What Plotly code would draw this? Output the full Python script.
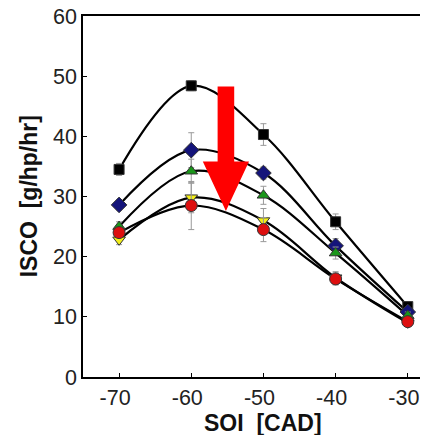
import plotly.graph_objects as go

soi = [-70, -60, -50, -40, -30]
soi_labels = ["-70", "-60", "-50", "-40", "-30"]
isco_ticks = [0, 10, 20, 30, 40, 50, 60]

# ISCO [g/hp/hr] for each series
isco_sq = [34.5, 48.4, 40.3, 25.8, 11.7]
isco_dia = [28.6, 37.7, 33.9, 21.8, 10.8]
isco_up = [25.0, 34.2, 30.2, 20.6, 10.2]
isco_dn = [22.8, 29.8, 26.0, 16.5, 9.0]
isco_circ = [24.0, 28.5, 24.5, 16.3, 9.2]

err_sq = [1.0, 0.8, 1.8, 1.3, 0.8]
err_dia = [0.8, 2.9, 1.0, 1.2, 0.6]
err_up = [0.8, 2.0, 1.5, 1.0, 0.6]
err_dn = [0.8, 2.5, 2.0, 1.0, 0.6]
err_circ = [0.8, 4.0, 2.0, 1.0, 0.6]

series = [
    (isco_sq, err_sq, "square", "#000000", 10),
    (isco_dia, err_dia, "diamond", "#14147a", 12),
    (isco_up, err_up, "triangle-up", "#1a961a", 11),
    (isco_dn, err_dn, "triangle-down", "#f2ee1a", 11),
    (isco_circ, err_circ, "circle", "#dd0f0f", 12),
]

# arrow drawn in data units
arrow_x = -55.2
arrow_top = 48.3
arrow_neck = 35.8
arrow_tip = 27.6
shaft_half = 1.15
head_half = 3.2

fig = go.Figure()
for y, e, sym, col, sz in series:
    fig.add_trace(go.Scatter(
        x=soi, y=y, mode="lines",
        line=dict(color="black", width=2.2, shape="spline", smoothing=1.0),
        showlegend=False, hoverinfo="skip",
    ))
for y, e, sym, col, sz in series:
    fig.add_trace(go.Scatter(
        x=soi, y=y, mode="markers",
        marker=dict(symbol=sym, size=sz, color=col,
                    line=dict(color="#333333", width=1)),
        error_y=dict(type="data", array=e, color="#999999", thickness=1, width=3),
        showlegend=False,
    ))

path = (f"M {arrow_x - shaft_half} {arrow_top} L {arrow_x + shaft_half} {arrow_top} "
        f"L {arrow_x + shaft_half} {arrow_neck} L {arrow_x + head_half} {arrow_neck} "
        f"L {arrow_x} {arrow_tip} L {arrow_x - head_half} {arrow_neck} "
        f"L {arrow_x - shaft_half} {arrow_neck} Z")
fig.add_shape(type="path", path=path, xref="x", yref="y",
              fillcolor="#ff0000", line=dict(width=0))

# axis titles (the original x axis ran to -25, so its title sits at -50)
fig.add_annotation(text="<b>SOI  [CAD]</b>", x=-50, xref="x", y=-0.127, yref="paper",
                   showarrow=False, font=dict(size=23, color="#111111"),
                   xanchor="center", yanchor="middle")
fig.add_annotation(text="<b>ISCO  [g/hp/hr]</b>", x=-0.157, xref="paper", y=0.5,
                   yref="paper", showarrow=False, textangle=-90,
                   font=dict(size=23, color="#111111"),
                   xanchor="center", yanchor="middle")

# page body has an 8px margin; figure offsets compensate for it
fig.update_layout(
    width=428, height=435,
    margin=dict(l=75, r=8, t=8, b=66),
    paper_bgcolor="white", plot_bgcolor="white",
    font=dict(family="Liberation Sans, Arial", size=21.5, color="#222222"),
    xaxis=dict(range=[-75, -27.2], tickvals=soi, ticktext=soi_labels,
               showgrid=False, zeroline=False, automargin=False,
               ticklabeloverflow="allow", ticklabelshift=-4,
               showline=True, linecolor="black", linewidth=1.5, mirror=True,
               ticks="inside", ticklen=4, tickcolor="black"),
    yaxis=dict(range=[0, 60], tickvals=isco_ticks, showgrid=False, zeroline=False,
               automargin=False, ticklabeloverflow="allow",
               showline=True, linecolor="black", linewidth=1.5,
               ticks="inside", ticklen=4, tickcolor="black"),
)

fig.write_html("out.html")
